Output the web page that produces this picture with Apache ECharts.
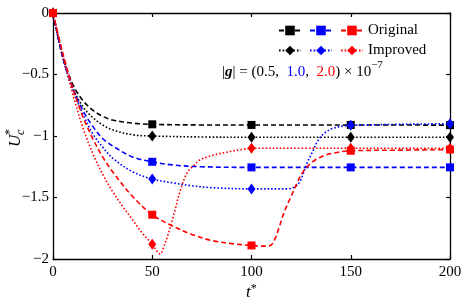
<!DOCTYPE html>
<html>
<head>
<meta charset="utf-8">
<script src="https://cdn.jsdelivr.net/npm/echarts@6/dist/echarts.min.js"></script>
<style>
  html, body { margin: 0; padding: 0; background: #fff; }
  #chart { width: 468px; height: 304px; }
</style>
</head>
<body>
<div id="chart"></div>
<script>
// marker positions along t*
var markerT = [0, 50, 100, 150, 200]

// Original, |g| = 0.5e-7 (black dashed)
var tBlackOrig = [0, 5, 10, 15, 20, 25, 30, 40, 50, 75, 100, 150, 200]
var uBlackOrig = [0, -0.36, -0.58, -0.71, -0.79, -0.84, -0.87, -0.895, -0.905, -0.91, -0.91, -0.91, -0.912]
// Improved, |g| = 0.5e-7 (black dotted)
var tBlackImp = [0, 5, 10, 15, 20, 25, 30, 40, 50, 75, 100, 150, 200]
var uBlackImp = [0, -0.37, -0.61, -0.76, -0.85, -0.91, -0.95, -0.99, -1.0, -1.008, -1.01, -1.01, -1.01]

// Original, |g| = 1.0e-7 (blue dashed)
var tBlueOrig = [0, 5, 10, 15, 20, 25, 30, 40, 50, 60, 75, 100, 150, 200]
var uBlueOrig = [0, -0.36, -0.61, -0.79, -0.92, -1.02, -1.08, -1.17, -1.21, -1.235, -1.25, -1.255, -1.255, -1.255]
// Improved, |g| = 1.0e-7 (blue dotted)
var tBlueImp = [0, 5, 10, 15, 20, 25, 30, 40, 50, 60, 70, 80, 100, 118, 121, 123, 125, 128, 131, 133, 136.5, 141.5, 148, 150, 175, 200]
var uBlueImp = [0, -0.36, -0.62, -0.82, -0.98, -1.09, -1.18, -1.29, -1.35, -1.38, -1.405, -1.42, -1.43, -1.43, -1.42, -1.40, -1.35, -1.22, -1.12, -1.05, -0.98, -0.935, -0.915, -0.913, -0.905, -0.9]

// Original, |g| = 2.0e-7 (red dashed)
var tRedOrig = [0, 5, 10, 15, 20, 25, 30, 40, 50, 60, 70, 80, 90, 100, 105, 108, 110, 112, 114, 116, 118, 120, 123, 126, 130, 135, 141, 150, 175, 200]
var uRedOrig = [0, -0.33, -0.61, -0.84, -1.02, -1.17, -1.29, -1.49, -1.64, -1.73, -1.80, -1.85, -1.875, -1.89, -1.895, -1.895, -1.885, -1.83, -1.74, -1.64, -1.56, -1.49, -1.38, -1.29, -1.22, -1.17, -1.14, -1.12, -1.115, -1.11]
// Improved, |g| = 2.0e-7 (red dotted)
var tRedImp = [0, 5, 10, 15, 20, 25, 30, 35, 40, 45, 50, 52, 54, 56, 58, 61, 64, 67.5, 71, 74, 81, 88, 95, 100, 125, 150, 175, 200]
var uRedImp = [0, -0.35, -0.66, -0.93, -1.14, -1.31, -1.45, -1.57, -1.68, -1.79, -1.88, -1.93, -1.96, -1.89, -1.80, -1.63, -1.45, -1.30, -1.24, -1.195, -1.155, -1.13, -1.11, -1.10, -1.10, -1.10, -1.10, -1.10]

var xTicks = [0, 50, 100, 150, 200]
var yTicks = [-2, -1.5, -1, -0.5, 0]

var FONT = 'Liberation Serif'

function pairs (ts, us) {
  return ts.map(function (t, i) { return [t, us[i]] })
}

function makeSeries (name, ts, us, color, dashed) {
  return {
    name: name,
    type: 'line',
    data: pairs(ts, us),
    smooth: 0.35,
    symbol: dashed ? 'rect' : 'diamond',
    symbolSize: function (val) {
      if (markerT.indexOf(val[0]) < 0) return 0
      return dashed ? 8 : [8, 11]
    },
    showAllSymbol: true,
    itemStyle: { color: color },
    lineStyle: {
      color: color,
      width: 1.6,
      type: dashed ? [5, 3] : [1.6, 2]
    },
    silent: true
  }
}

var chart = echarts.init(document.getElementById('chart'))

var baseAxisLine = { show: true, onZero: false, lineStyle: { color: '#000', width: 1.3 } }
var tickStyle = { show: true, inside: true, length: 4, lineStyle: { color: '#000', width: 1.2 } }

var option = {
  animation: false,
  grid: { left: 53, right: 18, top: 13, bottom: 45 },
  xAxis: [{
    type: 'value',
    min: xTicks[0],
    max: xTicks[xTicks.length - 1],
    interval: 50,
    axisLine: baseAxisLine,
    axisTick: tickStyle,
    splitLine: { show: false },
    axisLabel: { color: '#000', fontFamily: FONT, fontSize: 15, margin: 6 }
  }, {
    type: 'value',
    position: 'top',
    min: xTicks[0],
    max: xTicks[xTicks.length - 1],
    interval: 50,
    axisLine: baseAxisLine,
    axisTick: tickStyle,
    splitLine: { show: false },
    axisLabel: { show: false }
  }],
  yAxis: [{
    type: 'value',
    min: yTicks[0],
    max: yTicks[yTicks.length - 1],
    interval: 0.5,
    axisLine: baseAxisLine,
    axisTick: tickStyle,
    splitLine: { show: false },
    axisLabel: {
      color: '#000',
      fontFamily: FONT,
      fontSize: 15,
      margin: 4,
      formatter: function (v) { return v < 0 ? '\u2212' + Math.abs(v) : String(v) }
    }
  }, {
    type: 'value',
    position: 'right',
    min: yTicks[0],
    max: yTicks[yTicks.length - 1],
    interval: 0.5,
    axisLine: baseAxisLine,
    axisTick: tickStyle,
    splitLine: { show: false },
    axisLabel: { show: false }
  }],
  legend: [{
    data: ['Original 0.5', 'Original 1.0', 'Original 2.0'],
    left: 273,
    top: 18,
    itemWidth: 22,
    itemHeight: 12,
    itemGap: 7,
    selectedMode: false,
    formatter: function (n) { return n === 'Original 2.0' ? 'Original' : '' },
    textStyle: { color: '#000', fontFamily: FONT, fontSize: 15 }
  }, {
    data: ['Improved 0.5', 'Improved 1.0', 'Improved 2.0'],
    left: 273,
    top: 38,
    itemWidth: 22,
    itemHeight: 12,
    itemGap: 7,
    selectedMode: false,
    formatter: function (n) { return n === 'Improved 2.0' ? 'Improved' : '' },
    textStyle: { color: '#000', fontFamily: FONT, fontSize: 15 }
  }],
  graphic: [{
    type: 'text',
    left: 222,
    top: 60,
    style: {
      text: '{n||}{g|g}{n|| = (0.5,  }{b|1.0}{n|,  }{r|2.0}{n|) × 10}{s|−7}',
      rich: {
        n: { fontFamily: FONT, fontSize: 15, fill: '#000', lineHeight: 20, verticalAlign: 'bottom' },
        g: { fontFamily: FONT, fontSize: 15, fill: '#000', fontWeight: 'bold', fontStyle: 'italic', lineHeight: 20, verticalAlign: 'bottom' },
        b: { fontFamily: FONT, fontSize: 15, fill: '#0000ff', lineHeight: 20, verticalAlign: 'bottom' },
        r: { fontFamily: FONT, fontSize: 15, fill: '#ff0000', lineHeight: 20, verticalAlign: 'bottom' },
        s: { fontFamily: FONT, fontSize: 11, fill: '#000', lineHeight: 20, verticalAlign: 'top' }
      }
    }
  }, {
    // x axis title t*
    type: 'text',
    left: 246,
    top: 283,
    style: {
      text: '{i|t}{s|*}',
      rich: {
        i: { fontFamily: FONT, fontSize: 17, fontStyle: 'italic', fill: '#000', lineHeight: 18, verticalAlign: 'bottom' },
        s: { fontFamily: FONT, fontSize: 12, fill: '#000', lineHeight: 18, verticalAlign: 'top' }
      }
    }
  }, {
    // y axis title U_c^*
    type: 'group',
    x: 24,
    y: 147,
    rotation: Math.PI / 2,
    children: [{
      type: 'text',
      x: 0,
      y: 0,
      style: { text: 'U', fontFamily: FONT, fontSize: 17, fontStyle: 'italic', fill: '#000', verticalAlign: 'bottom' }
    }, {
      type: 'text',
      x: 12,
      y: 3,
      style: { text: 'c', fontFamily: FONT, fontSize: 12, fontStyle: 'italic', fill: '#000', verticalAlign: 'bottom' }
    }, {
      type: 'text',
      x: 12,
      y: -8,
      style: { text: '*', fontFamily: FONT, fontSize: 12, fill: '#000', verticalAlign: 'bottom' }
    }]
  }],
  series: [
    makeSeries('Original 0.5', tBlackOrig, uBlackOrig, '#000000', true),
    makeSeries('Improved 0.5', tBlackImp, uBlackImp, '#000000', false),
    makeSeries('Original 1.0', tBlueOrig, uBlueOrig, '#0000ff', true),
    makeSeries('Improved 1.0', tBlueImp, uBlueImp, '#0000ff', false),
    makeSeries('Original 2.0', tRedOrig, uRedOrig, '#ff0000', true),
    makeSeries('Improved 2.0', tRedImp, uRedImp, '#ff0000', false)
  ]
}

chart.setOption(option)
window.addEventListener('resize', function () {
  chart.resize()
})
</script>
</body>
</html>
